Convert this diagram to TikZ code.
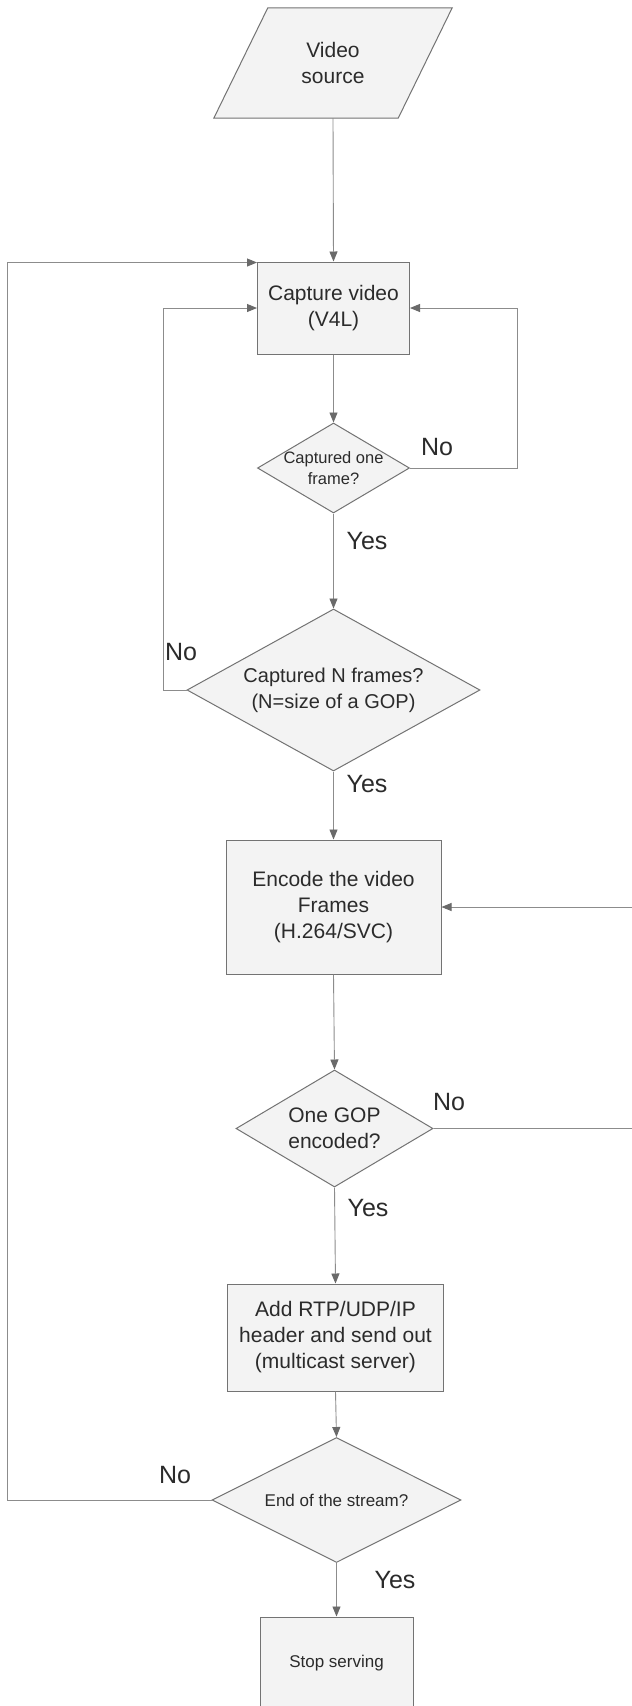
\documentclass[tikz,border=0pt]{standalone}
\usepackage{fontspec}
\setmainfont{Liberation Sans}
\usetikzlibrary{arrows.meta,calc,shapes.geometric,backgrounds}
\definecolor{edgegray}{HTML}{8C8C8C}
\definecolor{tipgray}{HTML}{6A6A6A}
\definecolor{bordergray}{HTML}{737373}
\definecolor{shapefill}{HTML}{F3F3F3}
\definecolor{inkgray}{HTML}{2B2B2B}
\begin{document}
\begin{tikzpicture}[x=1pt,y=-1pt,
  every node/.style={text=inkgray},
  txtbig/.style={font=\fontsize{21}{26}\selectfont, align=center},
  txtsmall/.style={font=\fontsize{16.5}{21}\selectfont, align=center},
  txtlabel/.style={font=\fontsize{25}{30}\selectfont},
  procbox/.style={rectangle, draw=bordergray, fill=shapefill, line width=1pt, inner sep=0pt, align=center},
  decision/.style={diamond, draw=bordergray, fill=shapefill, line width=1pt, inner sep=0pt},
  flow/.style={draw=edgegray, line width=0.9pt,
    -{Triangle[length=10pt,width=8pt,color=tipgray,fill=tipgray]}},
]
\useasboundingbox (0,0) rectangle (632,1706);

% input shape (text holder; outline drawn on the background layer)
\node[inner sep=0pt, minimum width=238pt, minimum height=110pt, txtbig] (src) at (333,63) {Video\\source};

% process steps
\node[procbox, txtbig, minimum width=152pt, minimum height=92pt] (cap) at (333.5,308) {Capture video\\(V4L)};
\node[procbox, txtbig, minimum width=215pt, minimum height=134pt] (enc) at (333.5,907) {Encode the video\\Frames\\(H.264/SVC)};
\node[procbox, txtbig, minimum width=216pt, minimum height=107pt] (add) at (335.5,1337.5) {Add RTP/UDP/IP\\header and send out\\(multicast server)};
\node[procbox, font=\fontsize{17}{21}\selectfont, minimum width=153pt, minimum height=92pt] (stop) at (336.5,1663) {Stop serving};

% decisions
\node[decision, minimum width=152pt, minimum height=90pt,
      label={[txtsmall]center:{Captured one\\frame?}}] (d1) at (333.5,468) {};
\node[decision, minimum width=293pt, minimum height=162pt,
      label={[font=\fontsize{20}{26}\selectfont, align=center]center:{Captured N frames?\\(N=size of a GOP)}}] (d2) at (333.5,690) {};
\node[decision, minimum width=197pt, minimum height=117pt,
      label={[txtbig]center:{One GOP\\encoded?}}] (d3) at (334.5,1128.5) {};
\node[decision, minimum width=249pt, minimum height=125pt,
      label={[font=\fontsize{17}{21}\selectfont]center:{End of the stream?}}] (d4) at (336.5,1500) {};

% branch labels
\node[txtlabel] (no1)  at (437,447)  {No};
\node[txtlabel] (yes1) at (367,541)  {Yes};
\node[txtlabel] (no2)  at (181,652)  {No};
\node[txtlabel] (yes2) at (367,784)  {Yes};
\node[txtlabel] (no3)  at (449,1102) {No};
\node[txtlabel] (yes3) at (368,1208) {Yes};
\node[txtlabel] (no4)  at (175,1475) {No};
\node[txtlabel] (yes4) at (395,1580) {Yes};

% main sequence
\draw[flow] (src.south) -- (cap.north);
\draw[flow] (cap.south) -- (d1.north);
\draw[flow] (d1.south) -- (d2.north);
\draw[flow] (d2.south) -- (enc.north);
\draw[flow] (enc.south) -- (d3.north);
\draw[flow] (d3.south) -- (add.north);
\draw[flow] (add.south) -- (d4.north);
\draw[flow] (d4.south) -- (stop.north);

% loops back
\draw[flow] (d1.east) -- ++(107,0) |- (cap.east);
\draw[flow] (d2.west) -- ++(-23,0) |- (cap.west);
\draw[flow] (d4.west) -- ++(-204,0) |- ($(cap.north west)+(0,1)$);
\coordinate (farright) at (642,1128.5);
\draw[flow] (d3.east) -- (farright) |- (enc.east);

\begin{scope}[on background layer]
  \fill[white] (0,0) rectangle (632,1706);
  \filldraw[draw=bordergray, fill=shapefill, line width=1pt]
    (src.south west) -- ($(src.north west)+(54,0)$) -- (src.north east)
    -- ($(src.south east)+(-54,0)$) -- cycle;
\end{scope}
\end{tikzpicture}
\end{document}
